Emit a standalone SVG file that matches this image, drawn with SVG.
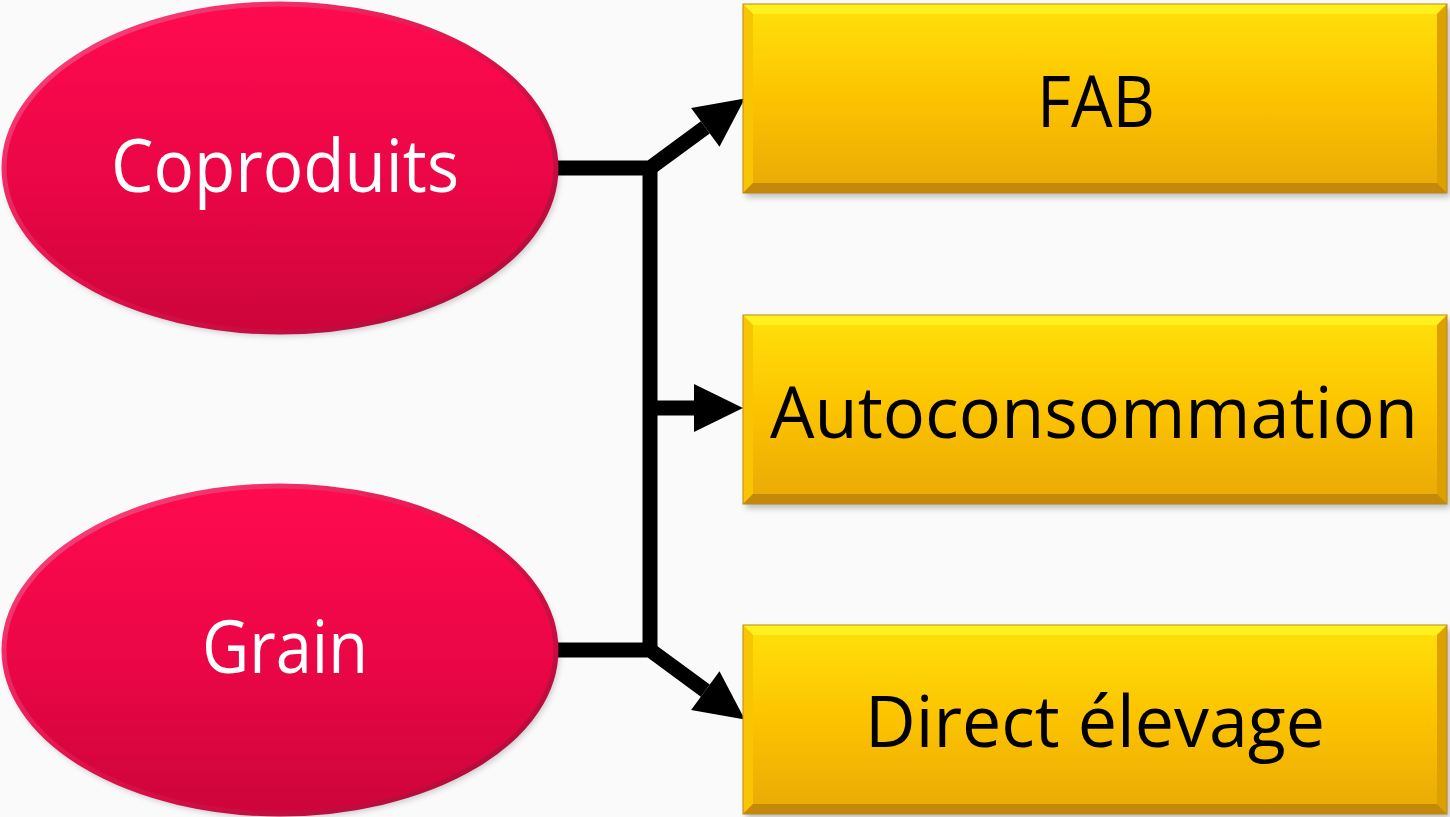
<svg xmlns="http://www.w3.org/2000/svg" xmlns:xlink="http://www.w3.org/1999/xlink" width="1450" height="817" viewBox="0 0 1450 817">
  <style>
    .oval-text { font-family: "Open Sans", "Noto Sans", sans-serif; font-size: 74px; fill: #ffffff; text-anchor: middle; }
    .box-text { font-family: "Open Sans", "Noto Sans", sans-serif; font-size: 72px; fill: #000000; text-anchor: middle; }
    .wire { fill: none; stroke: #000000; stroke-width: 15; stroke-linejoin: miter; }
  </style>
  <defs>
    <linearGradient id="ovalFill" x1="0" y1="0" x2="0" y2="1">
      <stop offset="0" stop-color="#ff0a4f"/>
      <stop offset="0.55" stop-color="#ea0646"/>
      <stop offset="1" stop-color="#cc053a"/>
    </linearGradient>
    <linearGradient id="ovalRim" x1="0" y1="0" x2="1" y2="1">
      <stop offset="0" stop-color="#ff4c85"/>
      <stop offset="0.5" stop-color="#e0104a"/>
      <stop offset="1" stop-color="#a80a36"/>
    </linearGradient>
    <linearGradient id="boxFace" x1="0" y1="0" x2="0" y2="1">
      <stop offset="0" stop-color="#ffe10a"/>
      <stop offset="0.5" stop-color="#fcc300"/>
      <stop offset="1" stop-color="#e9a906"/>
    </linearGradient>
    <filter id="soft" x="-10%" y="-10%" width="120%" height="125%">
      <feGaussianBlur stdDeviation="3"/>
    </filter>
    <marker id="head" markerUnits="userSpaceOnUse" markerWidth="50" markerHeight="50" refX="0" refY="24" orient="auto" viewBox="0 0 50 48" overflow="visible">
      <path d="M0,0 L49,24 L0,48 Z" fill="#000000"/>
    </marker>
    <!-- bevelled box, 704 x 189 -->
    <g id="bevelBox">
      <rect x="3" y="4" width="704" height="189" fill="#000000" opacity="0.25" filter="url(#soft)"/>
      <rect x="0" y="0" width="704" height="189" fill="url(#boxFace)"/>
      <polygon points="0,0 704,0 694,10 10,10" fill="#fff01e"/>
      <polygon points="0,0 10,10 10,179 0,189" fill="#f9c400"/>
      <polygon points="704,0 704,189 694,179 694,10" fill="#dca000"/>
      <polygon points="0,189 10,179 694,179 704,189" fill="#c4880a"/>
      <rect x="0" y="0" width="704" height="189" fill="none" stroke="#b98d10" stroke-width="1"/>
    </g>
  </defs>

  <rect x="0" y="0" width="1450" height="817" fill="#fafafa"/>

  <!-- connectors -->
  <g id="connectors">
    <path class="wire" d="M557,168 H650 L705.3,127.4" marker-end="url(#head)"/>
    <path class="wire" d="M557,650 H650 L705.3,690.6" marker-end="url(#head)"/>
    <path class="wire" d="M650,168 V650"/>
    <path class="wire" d="M650,408 H694" marker-end="url(#head)"/>
  </g>

  <!-- source ovals -->
  <g id="coproduits">
    <ellipse cx="282" cy="172" rx="277" ry="164" fill="#000000" opacity="0.2" filter="url(#soft)"/>
    <ellipse cx="280" cy="168" rx="276" ry="164" fill="url(#ovalFill)" stroke="url(#ovalRim)" stroke-width="5"/>
    <text class="oval-text" x="285" y="192" textLength="348" lengthAdjust="spacingAndGlyphs">Coproduits</text>
  </g>
  <g id="grain">
    <ellipse cx="282" cy="654" rx="277" ry="164" fill="#000000" opacity="0.2" filter="url(#soft)"/>
    <ellipse cx="280" cy="650" rx="276" ry="164" fill="url(#ovalFill)" stroke="url(#ovalRim)" stroke-width="5"/>
    <text class="oval-text" x="285" y="673" textLength="166" lengthAdjust="spacingAndGlyphs">Grain</text>
  </g>

  <!-- destination boxes -->
  <g id="fab">
    <use xlink:href="#bevelBox" x="743" y="4"/>
    <text class="box-text" x="1096" y="127" textLength="118" lengthAdjust="spacingAndGlyphs">FAB</text>
  </g>
  <g id="autoconsommation">
    <use xlink:href="#bevelBox" x="743" y="315"/>
    <text class="box-text" x="1094" y="438" textLength="648" lengthAdjust="spacingAndGlyphs">Autoconsommation</text>
  </g>
  <g id="direct-elevage">
    <use xlink:href="#bevelBox" x="743" y="625"/>
    <text class="box-text" x="1095" y="747" textLength="460" lengthAdjust="spacingAndGlyphs">Direct élevage</text>
  </g>
</svg>
